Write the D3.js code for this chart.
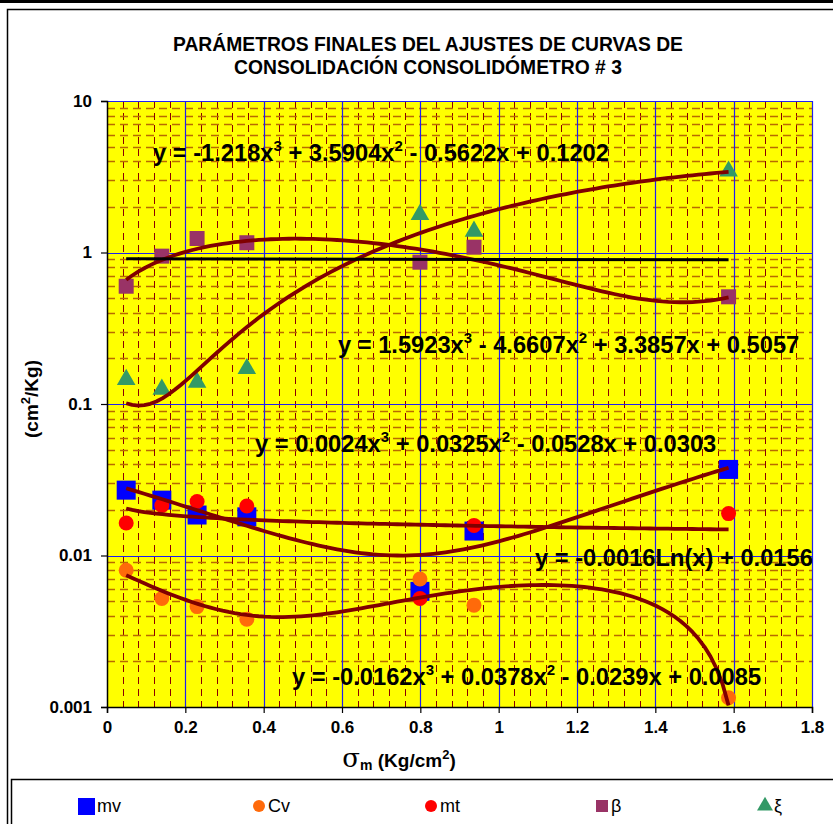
<!DOCTYPE html>
<html>
<head>
<meta charset="utf-8">
<script src="https://cdn.jsdelivr.net/npm/d3@7/dist/d3.min.js"></script>
<style>
  html, body { margin: 0; padding: 0; background: #fff; }
  svg { display: block; }
  text { font-family: "Liberation Sans", Arial, sans-serif; }
</style>
</head>
<body>
<svg id="chart" width="833" height="824"></svg>
<script>
// ---------------- DATA ----------------
const titleLines = ["PARÁMETROS FINALES DEL AJUSTES DE CURVAS DE", "CONSOLIDACIÓN CONSOLIDÓMETRO # 3"];
const sigmaM = [0.049, 0.140, 0.230, 0.357, 0.799, 0.937, 1.587];
const mv   = [0.0270, 0.0232, 0.0185, 0.0180, 0.0058, 0.0145, 0.0370];
const cv   = [0.0080, 0.0052, 0.0046, 0.0038, 0.0070, 0.0047, 0.00115];
const mt   = [0.0164, 0.0214, 0.0227, 0.0212, 0.0052, 0.0158, 0.0189];
const beta = [0.599, 0.946, 1.237, 1.160, 0.863, 1.084, 0.510];
const xi   = [0.145, 0.125, 0.139, 0.171, 1.780, 1.380, 3.440];
const refLineX = [0.049, 1.587];
const refLineY = [0.91, 0.895];
// trendline coefficients (as printed on the chart)
const xiCoef   = [-1.218, 3.5904, -0.5622, 0.1202];
const betaCoef = [1.5923, -4.6607, 3.3857, 0.5057];
const mvCoef   = [0.0024, 0.0325, -0.0528, 0.0303];
const mtLogCoef = [-0.0016, 0.0156];
const cvCoef   = [-0.0162, 0.0378, -0.0239, 0.0085];
const eqLabels = [
  "y = -1.218x^3 + 3.5904x^2 - 0.5622x + 0.1202",
  "y = 1.5923x^3 - 4.6607x^2 + 3.3857x + 0.5057",
  "y = 0.0024x^3 + 0.0325x^2 - 0.0528x + 0.0303",
  "y = -0.0016Ln(x) + 0.0156",
  "y = -0.0162x^3 + 0.0378x^2 - 0.0239x + 0.0085"
];
const xTicks = [0, 0.2, 0.4, 0.6, 0.8, 1, 1.2, 1.4, 1.6, 1.8];
const yTicks = [0.001, 0.01, 0.1, 1, 10];
const legendNames = ["mv", "Cv", "mt", "\u03B2", "\u03BE"];

// ---------------- LAYOUT ----------------
const svg = d3.select("#chart");
const W = 833, H = 824;
const P = { left: 107, right: 812, top: 101, bottom: 707 };
const x = d3.scaleLinear().domain([0, 1.8]).range([P.left, P.right]);
const y = d3.scaleLog().domain([0.001, 10]).range([P.bottom, P.top]);

// outer frame
svg.append("rect").attr("x", 0).attr("y", 0).attr("width", W).attr("height", 3).attr("fill", "#000");
svg.append("path").attr("d", `M7.5,${H} V9.5 H${W}`).attr("fill", "none").attr("stroke", "#000").attr("stroke-width", 1.5);
svg.append("path").attr("d", `M11.5,${H} V779.5 H${W}`).attr("fill", "none").attr("stroke", "#000").attr("stroke-width", 1.5);

// title
svg.append("g").selectAll("text").data(titleLines).join("text")
  .attr("x", 428).attr("y", (d, i) => 51 + i * 23)
  .attr("text-anchor", "middle").attr("font-weight", "bold").attr("font-size", 19.3)
  .text(d => d);

// plot background
svg.append("rect").attr("x", P.left).attr("y", P.top).attr("width", P.right - P.left).attr("height", P.bottom - P.top)
  .attr("fill", "#ffff00");

// minor grid
const minorX = d3.range(1, 45).map(i => i * 0.04).filter((v, i) => (i + 1) % 5 !== 0);
const minorY = [];
[0.001, 0.01, 0.1, 1].forEach(d => { for (let k = 2; k <= 9; k++) minorY.push(d * k); });
const grid = svg.append("g");
grid.selectAll(".mx").data(minorX).join("line")
  .attr("x1", d => Math.round(x(d)) + 0.5).attr("x2", d => Math.round(x(d)) + 0.5)
  .attr("y1", P.top).attr("y2", P.bottom)
  .attr("stroke", "#8b0000").attr("stroke-width", 1).attr("stroke-dasharray", "7,5");
grid.selectAll(".my").data(minorY).join("line")
  .attr("x1", P.left).attr("x2", P.right)
  .attr("y1", d => Math.round(y(d)) + 0.5).attr("y2", d => Math.round(y(d)) + 0.5)
  .attr("stroke", "#b86a00").attr("stroke-width", 1.3).attr("stroke-dasharray", "8,5");
// major grid
grid.selectAll(".Mx").data(xTicks.slice(1)).join("line")
  .attr("x1", d => Math.round(x(d)) + 0.5).attr("x2", d => Math.round(x(d)) + 0.5)
  .attr("y1", P.top).attr("y2", P.bottom)
  .attr("stroke", "#2020f0").attr("stroke-width", 1.2);
grid.selectAll(".My").data(yTicks.slice(1)).join("line")
  .attr("x1", P.left).attr("x2", P.right)
  .attr("y1", d => Math.round(y(d)) + 0.5).attr("y2", d => Math.round(y(d)) + 0.5)
  .attr("stroke", "#2020f0").attr("stroke-width", 1.2);

// axes
const axL = svg.append("g").attr("transform", `translate(${P.left},0)`)
  .call(d3.axisLeft(y).tickValues(yTicks).tickSize(6).tickPadding(9)
    .tickFormat(d => d >= 1 ? d3.format("d")(d) : String(d)));
const axB = svg.append("g").attr("transform", `translate(0,${P.bottom})`)
  .call(d3.axisBottom(x).tickValues(xTicks).tickSize(6).tickPadding(8)
    .tickFormat(d => String(+d.toFixed(1))));
[axL, axB].forEach(a => {
  a.select(".domain").attr("stroke", "#000").attr("stroke-width", 1.5);
  a.selectAll(".tick line").attr("stroke", "#000").attr("stroke-width", 1.2);
  a.selectAll(".tick text").attr("font-size", 17).attr("font-weight", "bold").attr("fill", "#000")
    .attr("font-family", "'Liberation Sans', Arial, sans-serif");
});

// axis titles
const xt = svg.append("text").attr("x", 399).attr("y", 767).attr("text-anchor", "middle")
  .attr("font-weight", "bold").attr("font-size", 19);
xt.append("tspan").attr("font-size", 26).attr("font-weight", "normal").attr("font-family", "'DejaVu Serif', serif").text("\u03C3");
xt.append("tspan").attr("font-size", 14).attr("dy", 3).text("m");
xt.append("tspan").attr("dy", -3).text(" (Kg/cm");
xt.append("tspan").attr("font-size", 13).attr("dy", -8).text("2");
xt.append("tspan").attr("dy", 8).text(")");

const yt = svg.append("text").attr("transform", "translate(38,399) rotate(-90)").attr("text-anchor", "middle")
  .attr("font-weight", "bold").attr("font-size", 19);
yt.append("tspan").text("(cm");
yt.append("tspan").attr("font-size", 13).attr("dy", -8).text("2");
yt.append("tspan").attr("dy", 8).text("/Kg)");

// markers
const mk = svg.append("g");
function squares(vals, color, size) {
  mk.append("g").selectAll("rect").data(vals).join("rect")
    .attr("x", (d, i) => x(sigmaM[i]) - size / 2).attr("y", d => y(d) - size / 2)
    .attr("width", size).attr("height", size).attr("fill", color);
}
function circles(vals, color, r) {
  mk.append("g").selectAll("circle").data(vals).join("circle")
    .attr("cx", (d, i) => x(sigmaM[i])).attr("cy", d => y(d)).attr("r", r).attr("fill", color);
}
function triangles(vals, color, s) {
  const tri = d3.symbol().type(d3.symbolTriangle).size(s);
  mk.append("g").selectAll("path").data(vals).join("path")
    .attr("transform", (d, i) => `translate(${x(sigmaM[i])},${y(d)})`).attr("d", tri()).attr("fill", color);
}
squares(mv, "#0000ff", 19);
circles(cv, "#ff6a0a", 7.5);
circles(mt, "#ff0000", 7.5);
squares(beta, "#993366", 15);
triangles(xi, "#339966", 150);

// trendlines
const xs = d3.range(0, 101).map(i => sigmaM[0] + (sigmaM[sigmaM.length - 1] - sigmaM[0]) * i / 100);
const poly = c => v => ((c[0] * v + c[1]) * v + c[2]) * v + c[3];
const logf = c => v => c[0] * Math.log(v) + c[1];
const line = d3.line().x(d => x(d[0])).y(d => y(d[1]));
const tl = svg.append("g");
[poly(xiCoef), poly(betaCoef), poly(mvCoef), logf(mtLogCoef), poly(cvCoef)].forEach(f => {
  tl.append("path").attr("d", line(xs.map(v => [v, f(v)])))
    .attr("fill", "none").attr("stroke", "#800000").attr("stroke-width", 3.8).attr("stroke-linejoin", "round");
});
tl.append("path").attr("d", line(refLineX.map((v, i) => [v, refLineY[i]])))
  .attr("fill", "none").attr("stroke", "#000").attr("stroke-width", 3);

// equation labels
const eqPos = [[153, 161], [338, 353], [255, 452], [535, 566], [292, 685]];
eqLabels.forEach((s, k) => {
  const t = svg.append("text").attr("x", eqPos[k][0]).attr("y", eqPos[k][1])
    .attr("font-weight", "bold").attr("font-size", 23.7).attr("fill", "#000");
  const parts = s.split(/\^(\d)/);
  parts.forEach((p, i) => {
    if (i % 2 === 0) {
      const ts = t.append("tspan").text(p);
      if (i > 0) ts.attr("dy", 10);
    } else {
      t.append("tspan").attr("font-size", 15).attr("dy", -10).text(p);
    }
  });
});

// legend
const legX = [86, 259, 431, 602, 765];
const lg = svg.append("g");
legendNames.forEach((n, i) => {
  const cx = legX[i], cy = 806;
  if (i === 0) lg.append("rect").attr("x", cx - 8).attr("y", cy - 8).attr("width", 17).attr("height", 17).attr("fill", "#0000ff");
  if (i === 1) lg.append("circle").attr("cx", cx).attr("cy", cy).attr("r", 6).attr("fill", "#ff6a0a");
  if (i === 2) lg.append("circle").attr("cx", cx).attr("cy", cy).attr("r", 6).attr("fill", "#ff0000");
  if (i === 3) lg.append("rect").attr("x", cx - 6).attr("y", cy - 6).attr("width", 12).attr("height", 12).attr("fill", "#993366");
  if (i === 4) lg.append("path").attr("transform", `translate(${cx},${cy})`).attr("d", d3.symbol().type(d3.symbolTriangle).size(110)()).attr("fill", "#339966");
  lg.append("text").attr("x", cx + (i === 0 ? 11 : 9)).attr("y", cy + 6).attr("font-size", 18).text(n);
});
</script>
</body>
</html>
